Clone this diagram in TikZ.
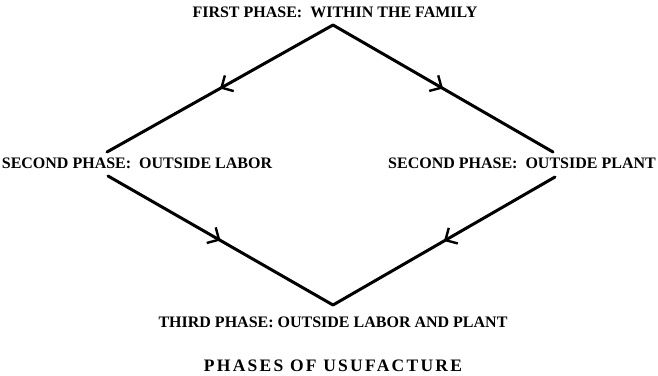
\documentclass[tikz,border=0pt]{standalone}
\usepackage{fontspec}
\setmainfont{Liberation Serif}
\usetikzlibrary{arrows.meta,decorations.markings}
\tikzset{
  phase/.style={font=\bfseries\fontsize{16}{18}\selectfont, inner sep=0pt},
  flow/.style={line width=3pt, line cap=round, postaction={decorate},
    decoration={markings, mark=at position 0.5 with {\arrow{Straight Barb[length=9pt,width=18pt,line width=2.4pt]}}}}
}
\begin{document}
\begin{tikzpicture}[x=1pt,y=-1pt]
\useasboundingbox (0,0) rectangle (658,375);
\node[phase] (first) at (335,12) {FIRST PHASE:\ \ WITHIN THE FAMILY};
\node[phase] (labor) at (137,163) {SECOND PHASE:\ \ OUTSIDE LABOR};
\node[phase] (plant) at (522,163) {SECOND PHASE:\ \ OUTSIDE PLANT};
\node[phase] (third) at (333,322) {THIRD PHASE:\ OUTSIDE LABOR AND PLANT};
\node[font=\bfseries\fontsize{17.5}{19}\selectfont\addfontfeature{LetterSpace=13}, inner sep=0pt] (title) at (333,366) {PHASES OF USUFACTURE};
\coordinate (top) at (333,25);
\coordinate (bottom) at (333,305);
\coordinate (labin) at (107,152);
\coordinate (labout) at (108,176);
\coordinate (plin) at (553,152);
\coordinate (plout) at (555,177);
\draw[flow] (top) -- (labin);
\draw[flow] (top) -- (plin);
\draw[flow] (labout) -- (bottom);
\draw[flow] (plout) -- (bottom);
\end{tikzpicture}
\end{document}
